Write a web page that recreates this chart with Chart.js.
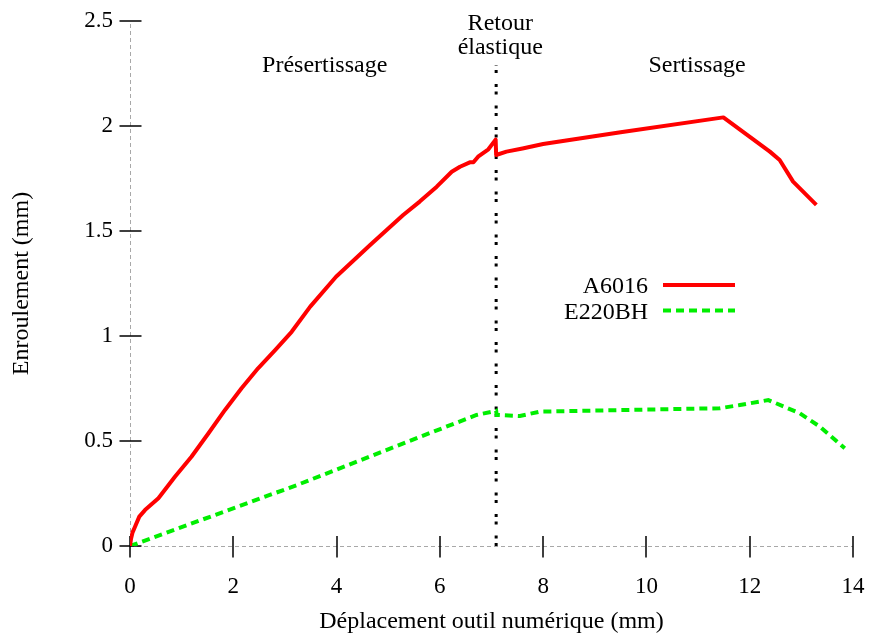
<!DOCTYPE html>
<html>
<head>
<meta charset="utf-8">
<script src="https://cdn.jsdelivr.net/npm/chart.js@4/dist/chart.umd.min.js"></script>
<style>
  html, body { margin:0; padding:0; background:#fff; }
  #wrap { width:870px; height:637px; }
</style>
</head>
<body>
<div id="wrap"><canvas id="chart" width="870" height="637"></canvas></div>
<script>
// Données
const a6016X = [0, 0.02, 0.05, 0.097, 0.18, 0.29, 0.55, 0.87, 1.19, 1.52, 1.84, 2.16, 2.48, 2.81, 3.13, 3.49, 3.99, 4.65, 5.29, 5.61, 5.94, 6.23, 6.39, 6.58, 6.65, 6.74, 6.94, 7.08, 7.09, 7.29, 7.6, 8.0, 9.5, 11.49, 12.39, 12.58, 12.84, 13.29];
const a6016Y = [0, 0.035, 0.065, 0.092, 0.14, 0.171, 0.227, 0.33, 0.425, 0.537, 0.648, 0.751, 0.846, 0.933, 1.02, 1.14, 1.282, 1.433, 1.576, 1.64, 1.711, 1.782, 1.806, 1.827, 1.827, 1.854, 1.889, 1.935, 1.862, 1.878, 1.893, 1.914, 1.97, 2.041, 1.878, 1.838, 1.735, 1.624];

const e220X = [0, 3.23, 5.62, 6.71, 7.09, 7.1, 7.55, 7.94, 11.42, 11.81, 12.36, 12.97, 13.36, 13.84];
const e220Y = [0, 0.29, 0.52, 0.624, 0.644, 0.624, 0.619, 0.64, 0.656, 0.671, 0.695, 0.632, 0.568, 0.465];

const limiteX = [7.09, 7.09];
const limiteY = [0, 2.29];

const xTicks = [0, 2, 4, 6, 8, 10, 12, 14];
const yTicks = [0, 0.5, 1, 1.5, 2, 2.5];

const zones = [
  { lignes: ["Présertissage"], x: 3.77 },
  { lignes: ["Retour", "élastique"], x: 7.17 },
  { lignes: ["Sertissage"], x: 10.98 }
];

const FONT = "'Liberation Serif', 'Times New Roman', serif";
const FS = 23;
const FS_TXT = 24;

const pts = (xs, ys) => xs.map((x, i) => ({ x, y: ys[i] }));

// axes à la gnuplot : lignes zéro pointillées + graduations croisées
const axesPlugin = {
  id: "axesPlugin",
  beforeDatasetsDraw(chart){
    const { ctx, chartArea: a, scales: { x, y } } = chart;
    ctx.save();
    ctx.strokeStyle = "#a8a8a8";
    ctx.lineWidth = 1;
    ctx.setLineDash([4, 3]);
    const x0 = Math.round(x.getPixelForValue(0)) + 0.5;
    const y0 = Math.round(y.getPixelForValue(0)) + 0.5;
    ctx.beginPath();
    ctx.moveTo(x0, a.bottom); ctx.lineTo(x0, a.top);
    ctx.moveTo(a.left, y0); ctx.lineTo(a.right, y0);
    ctx.stroke();
    ctx.setLineDash([]);
    ctx.strokeStyle = "#000";
    ctx.lineWidth = 1.5;
    ctx.beginPath();
    xTicks.forEach(v => {
      const px = Math.round(x.getPixelForValue(v));
      ctx.moveTo(px, y0 - 10.5); ctx.lineTo(px, y0 + 11);
    });
    yTicks.forEach(v => {
      const py = Math.round(y.getPixelForValue(v));
      ctx.moveTo(x0 - 11, py); ctx.lineTo(x0 + 11, py);
    });
    ctx.stroke();
    ctx.restore();
  },
  afterDraw(chart){
    const { ctx, scales: { x } } = chart;
    ctx.save();
    ctx.fillStyle = "#000";
    ctx.font = `${FS_TXT}px ${FONT}`;
    ctx.textBaseline = "alphabetic";
    // zones
    ctx.textAlign = "center";
    zones.forEach(z => {
      const px = x.getPixelForValue(z.x);
      if (z.lignes.length === 1) {
        ctx.fillText(z.lignes[0], px, 72);
      } else {
        ctx.fillText(z.lignes[0], px, 30);
        ctx.fillText(z.lignes[1], px, 54);
      }
    });
    // légende
    const ds = chart.data.datasets.filter(d => d.enLegende);
    ds.forEach((d, i) => {
      const ly = 285 + i * 25.5;
      ctx.textAlign = "right";
      ctx.fillText(d.label, 648, ly + 8);
      ctx.strokeStyle = d.borderColor;
      ctx.lineWidth = d.borderWidth;
      ctx.setLineDash(d.borderDash || []);
      ctx.beginPath();
      ctx.moveTo(663, ly); ctx.lineTo(735, ly);
      ctx.stroke();
    });
    ctx.restore();
  }
};

new Chart(document.getElementById("chart"), {
  type: "scatter",
  data: {
    datasets: [
      {
        label: "A6016",
        data: pts(a6016X, a6016Y),
        showLine: true,
        borderColor: "#ff0000",
        borderWidth: 4,
        borderJoinStyle: "round",
        pointRadius: 0,
        tension: 0,
        enLegende: true
      },
      {
        label: "E220BH",
        data: pts(e220X, e220Y),
        showLine: true,
        borderColor: "#00ee00",
        borderWidth: 4,
        borderDash: [8, 5],
        pointRadius: 0,
        tension: 0,
        enLegende: true
      },
      {
        label: "limite",
        data: pts(limiteX, limiteY),
        showLine: true,
        borderColor: "#000",
        borderWidth: 3,
        borderDash: [3, 4.5, 3, 11],
        borderCapStyle: "butt",
        pointRadius: 0
      }
    ]
  },
  options: {
    responsive: false,
    animation: false,
    layout: { padding: { left: 0, right: 17, top: 21, bottom: 0 } },
    plugins: {
      legend: { display: false },
      tooltip: { enabled: false }
    },
    scales: {
      x: {
        type: "linear",
        min: 0, max: 14,
        afterFit: (s) => { s.height = 91; s.paddingLeft = 0; s.paddingRight = 0; },
        afterBuildTicks: (s) => { s.ticks = xTicks.map(v => ({ value: v })); },
        grid: { display: false, drawTicks: false },
        border: { display: false },
        ticks: { color: "#000", padding: 27, font: { family: FONT, size: FS }, maxRotation: 0 },
        title: {
          display: true,
          text: "Déplacement outil numérique (mm)",
          color: "#000",
          font: { family: FONT, size: FS_TXT },
          padding: { top: 0, bottom: 1 }
        }
      },
      y: {
        type: "linear",
        min: 0, max: 2.5,
        afterFit: (s) => { s.width = 130; s.paddingTop = 0; s.paddingBottom = 0; },
        afterBuildTicks: (s) => { s.ticks = yTicks.map(v => ({ value: v })); },
        grid: { display: false, drawTicks: false },
        border: { display: false },
        ticks: {
          color: "#000", padding: 17, font: { family: FONT, size: FS },
          callback: (v) => String(v)
        },
        title: {
          display: true,
          text: "Enroulement (mm)",
          color: "#000",
          font: { family: FONT, size: FS_TXT },
          padding: { top: 7, bottom: 0 }
        }
      }
    }
  },
  plugins: [axesPlugin]
});
</script>
</body>
</html>
